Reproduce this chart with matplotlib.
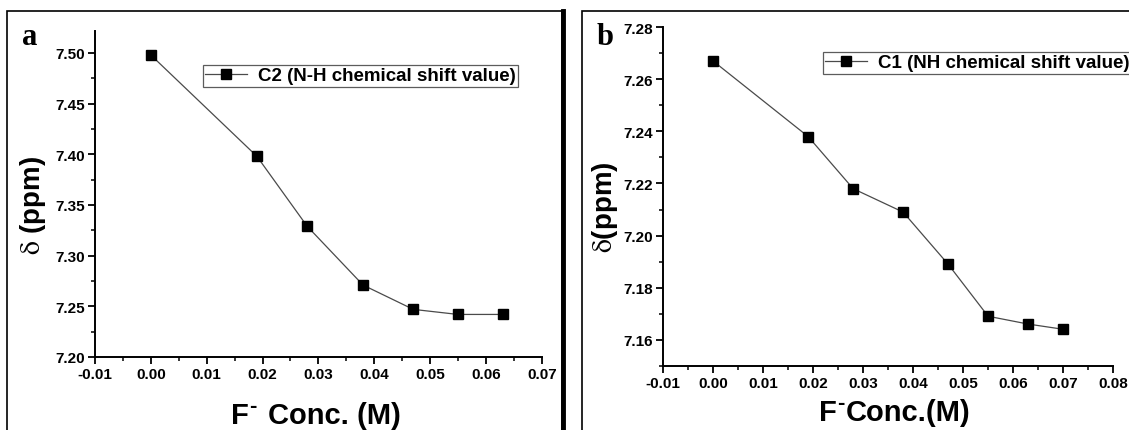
import matplotlib
matplotlib.use('Agg')
from matplotlib import pyplot as plt
from matplotlib.ticker import MultipleLocator, FormatStrFormatter

plt.rcParams['font.family'] = ['Liberation Sans', 'DejaVu Sans']
plt.rcParams['mathtext.fontset'] = 'stix'

# Панель a: C2 (N-H)
conc_a = [0.0, 0.019, 0.028, 0.038, 0.047, 0.055, 0.063]
shift_a = [7.498, 7.398, 7.329, 7.271, 7.247, 7.242, 7.242]
label_a = 'C2 (N-H chemical shift value)'

# Панель b: C1 (NH)
conc_b = [0.0, 0.019, 0.028, 0.038, 0.047, 0.055, 0.063, 0.070]
shift_b = [7.267, 7.238, 7.218, 7.209, 7.189, 7.169, 7.166, 7.164]
label_b = 'C1 (NH chemical shift value)'

W, H = 1129, 431
fig = plt.figure(figsize=(W / 100, H / 100), dpi=100)


def px_box(x0, y0, x1, y1):
	# пиксели (сверху вниз) -> доли фигуры
	return [x0 / W, 1 - y1 / H, (x1 - x0) / W, (y1 - y0) / H]


def px_text(x, y, s, **kw):
	return fig.text(x / W, 1 - y / H, s, **kw)


def style_axes(ax, y_major, y_minor):
	ax.spines['top'].set_visible(False)
	ax.spines['right'].set_visible(False)
	for side in ['left', 'bottom']:
		ax.spines[side].set_linewidth(1.4)
	ax.xaxis.set_major_locator(MultipleLocator(0.01))
	ax.xaxis.set_minor_locator(MultipleLocator(0.005))
	ax.yaxis.set_major_locator(MultipleLocator(y_major))
	ax.yaxis.set_minor_locator(MultipleLocator(y_minor))
	ax.xaxis.set_major_formatter(FormatStrFormatter('%.2f'))
	ax.yaxis.set_major_formatter(FormatStrFormatter('%.2f'))
	ax.tick_params(which='major', direction='out', length=5, width=1.3, labelsize=11, pad=2.5)
	ax.tick_params(which='minor', direction='out', length=3, width=1.1)
	for lbl in ax.get_xticklabels() + ax.get_yticklabels():
		lbl.set_fontweight('bold')


def add_legend(ax, x, y):
	leg = ax.legend(loc='upper left', bbox_to_anchor=(x / W, 1 - y / H), bbox_transform=fig.transFigure,
					prop={'weight': 'bold', 'size': 13.5}, frameon=True, fancybox=False,
					borderpad=0.12, borderaxespad=0, handlelength=2.2, handletextpad=0.6)
	leg.get_frame().set_edgecolor('#333333')
	leg.get_frame().set_linewidth(0.9)


def conc_label(x_f, x_dash, x_rest, baseline, rest):
	# F, короткий поднятый дефис и остальная подпись
	px_text(x_f, baseline, 'F', fontsize=21, fontweight='bold', ha='left', va='baseline')
	px_text(x_dash, baseline - 12, '-', fontsize=16, fontweight='bold', ha='left', va='baseline')
	px_text(x_rest, baseline, rest, fontsize=21, fontweight='bold', ha='left', va='baseline')


# Рамки панелей
fig.add_artist(plt.Rectangle((7 / W, -0.1), 555 / W, 1.1 - 12 / H, transform=fig.transFigure,
							 fill=False, edgecolor='black', linewidth=1.2))
fig.add_artist(plt.Line2D([563 / W, 563 / W], [0, 1 - 12 / H], transform=fig.transFigure,
						  color='black', linewidth=3.5))
fig.add_artist(plt.Rectangle((582 / W, -0.1), 600 / W, 1.1 - 12 / H, transform=fig.transFigure,
							 fill=False, edgecolor='black', linewidth=1.2))

# График a
ax1 = fig.add_axes(px_box(95, 31.7, 541.7, 358))
ax1.plot(conc_a, shift_a, color='#4a4a4a', linewidth=0.9, marker='s', markersize=6.5,
		 markerfacecolor='black', markeredgecolor='black', label=label_a)
ax1.set_xlim(-0.01, 0.07)
ax1.set_ylim(7.20, 7.522)
style_axes(ax1, 0.05, 0.025)
add_legend(ax1, 203, 66)

# График b
ax2 = fig.add_axes(px_box(663.3, 28.3, 1113, 366.7))
ax2.plot(conc_b, shift_b, color='#4a4a4a', linewidth=0.9, marker='s', markersize=6.5,
		 markerfacecolor='black', markeredgecolor='black', label=label_b)
ax2.set_xlim(-0.01, 0.08)
ax2.set_ylim(7.15, 7.28)
style_axes(ax2, 0.02, 0.01)
add_legend(ax2, 823, 53)

# Подписи осей
conc_label(231, 249, 268, 424, 'Conc. (M)')
conc_label(819, 837, 846, 421, 'Conc.(M)')
px_text(33, 205, r'$\mathrm{\delta}$ (ppm)', fontsize=20, fontweight='bold',
		rotation=90, ha='center', va='center')
px_text(605, 207, r'$\mathrm{\delta}$(ppm)', fontsize=20, fontweight='bold',
		rotation=90, ha='center', va='center')

# Буквы панелей
px_text(22, 45, 'a', fontsize=22, fontweight='bold', family='Liberation Serif', ha='left', va='baseline')
px_text(597, 45, 'b', fontsize=22, fontweight='bold', family='Liberation Serif', ha='left', va='baseline')

plt.savefig('out.png', dpi=100)
